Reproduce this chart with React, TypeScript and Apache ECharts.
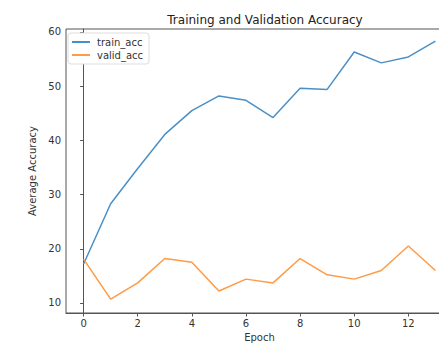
import React, { useEffect, useRef } from "react";
import * as echarts from "echarts";

const epochs = [0, 1, 2, 3, 4, 5, 6, 7, 8, 9, 10, 11, 12, 13];
const trainAcc = [17.2, 28.3, 34.8, 41.1, 45.5, 48.2, 47.4, 44.2, 49.6, 49.4, 56.3, 54.3, 55.4, 58.3];
const validAcc = [18.1, 10.7, 13.7, 18.2, 17.5, 12.2, 14.4, 13.7, 18.2, 15.2, 14.4, 16.0, 20.5, 16.0];
const xTicks = [0, 2, 4, 6, 8, 10, 12];
const yTicks = [10, 20, 30, 40, 50, 60];

export default function App() {
  const ref = useRef<HTMLDivElement>(null);
  useEffect(() => {
    document.body.style.margin = "0";
    const chart = echarts.init(ref.current!, null, { renderer: "svg" });
    const font = "DejaVu Sans";
    chart.setOption({
      animation: false,
      backgroundColor: "#fff",
      title: {
        text: "Training and Validation Accuracy",
        left: 260,
        textAlign: "center",
        top: 9,
        textStyle: { fontFamily: font, fontSize: 12, fontWeight: "normal", color: "#222" },
      },
      legend: {
        orient: "vertical",
        left: 68,
        top: 33,
        padding: [4, 6, 4, 4],
        itemGap: 3,
        itemWidth: 18,
        itemHeight: 2,
        icon: "rect",
        backgroundColor: "#fff",
        borderColor: "#ddd",
        borderWidth: 1,
        borderRadius: 3,
        textStyle: { fontFamily: font, fontSize: 10, color: "#333", padding: [0, 0, 0, 2] },
        data: ["train_acc", "valid_acc"],
      },
      grid: {
        left: 66,
        top: 29,
        width: 387,
        height: 284,
        show: true,
        borderColor: "#555",
        borderWidth: 1,
        outerBoundsMode: "none",
        containLabel: false,
      },
      xAxis: {
        type: "value",
        min: -0.65,
        max: 13.65,
        name: "Epoch",
        nameLocation: "middle",
        nameGap: 15,
        nameTextStyle: { fontFamily: font, fontSize: 10, color: "#333" },
        axisLine: { show: true, lineStyle: { color: "#555" } },
        axisTick: { show: true, length: 3.5, customValues: xTicks, lineStyle: { color: "#555" } },
        axisLabel: { customValues: xTicks, fontFamily: font, fontSize: 10, color: "#333", margin: 5 },
        splitLine: { show: false },
      },
      yAxis: {
        type: "value",
        min: 8.15,
        max: 60.55,
        name: "Average Accuracy",
        nameLocation: "middle",
        nameGap: 26,
        nameTextStyle: { fontFamily: font, fontSize: 10, color: "#333" },
        axisLine: { show: true, lineStyle: { color: "#555" } },
        axisTick: { show: true, length: 3.5, customValues: yTicks, lineStyle: { color: "#555" } },
        axisLabel: { customValues: yTicks, fontFamily: font, fontSize: 10, color: "#333", margin: 5 },
        splitLine: { show: false },
      },
      series: [
        {
          name: "train_acc",
          type: "line",
          data: epochs.map((e, i) => [e, trainAcc[i]]),
          symbol: "none",
          lineStyle: { color: "#4a90c8", width: 1.5 },
          itemStyle: { color: "#4a90c8" },
        },
        {
          name: "valid_acc",
          type: "line",
          data: epochs.map((e, i) => [e, validAcc[i]]),
          symbol: "none",
          lineStyle: { color: "#ff9a45", width: 1.5 },
          itemStyle: { color: "#ff9a45" },
        },
      ],
    });
    return () => chart.dispose();
  }, []);
  return <div ref={ref} style={{ width: 439, height: 346 }} />;
}
